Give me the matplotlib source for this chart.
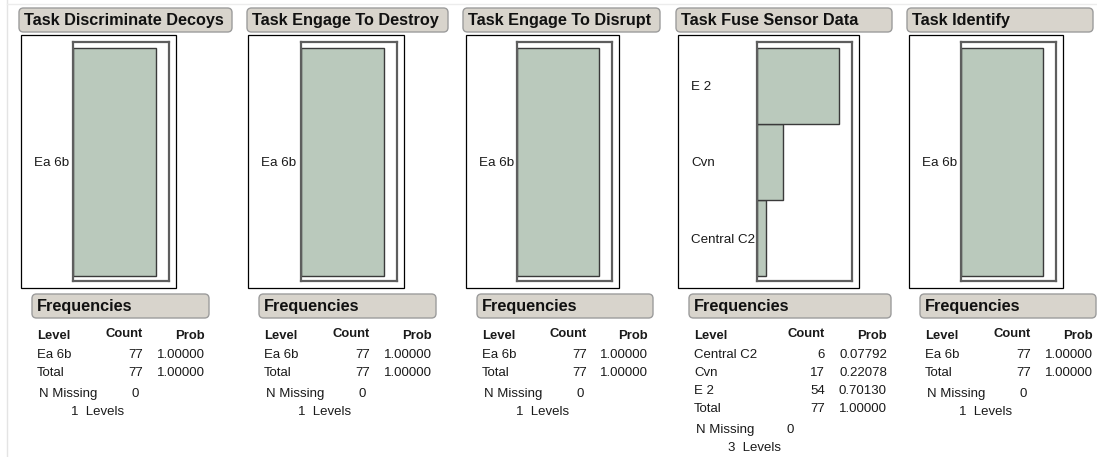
import matplotlib
matplotlib.use("Agg")  # no display
import matplotlib.pyplot as plt
from matplotlib.patches import Rectangle, FancyBboxPatch
from matplotlib.lines import Line2D

plt.rcParams['font.family'] = ['Liberation Sans', 'DejaVu Sans']

# data
titles = ["Task Discriminate Decoys", "Task Engage To Destroy", "Task Engage To Disrupt",
          "Task Fuse Sensor Data", "Task Identify"]
levels = [["Ea 6b"], ["Ea 6b"], ["Ea 6b"], ["Central C2", "Cvn", "E 2"], ["Ea 6b"]]
counts = [[77], [77], [77], [6, 17, 54], [77]]
n_missing = [0, 0, 0, 0, 0]

# layout (pixels, origin top-left)
W, H = 1097, 457
frame_x = [(21, 176), (248, 404), (466, 619), (678, 859), (909, 1063)]
plot_left = [73, 301, 517, 757, 961]
title_x = [(19, 232), (247, 448), (463, 660), (676, 892), (907, 1093)]
freq_w = [177, 177, 176, 202, 176]
count_col = [122, 122, 121, 147, 122]
prob_col = [184, 184, 182, 209, 184]

BAR_COLOR = '#bac9bc'
BOX_FILL = '#d8d4cc'
TXT = '#1a1a1a'

fig = plt.figure(figsize=(W / 100, H / 100), dpi=100)
tr = fig.dpi_scale_trans


def P(x, y):
    # pixel -> inches for dpi_scale_trans
    return x / 100, (H - y) / 100


def text(x, y, s, **kw):
    kw.setdefault('color', TXT)
    kw.setdefault('va', 'center')
    kw.setdefault('fontsize', 9.5)
    fig.text(*P(x, y + 1.2), s, transform=tr, **kw)


def header_box(x0, x1, y0, y1, label):
    box = FancyBboxPatch(P(x0, y1), (x1 - x0) / 100, (y1 - y0) / 100,
                         boxstyle="round,pad=0,rounding_size=0.045",
                         fc=BOX_FILL, ec='#9c9c9c', lw=1.0, transform=tr)
    fig.add_artist(box)
    text(x0 + 5, (y0 + y1) / 2 - 0.5, label, fontsize=11.7, fontweight='bold', color='#111111')


# faint page edges
fig.add_artist(Line2D([0.07, 0.07], [0, H / 100], color='#e4e4e4', lw=1, transform=tr))
fig.add_artist(Line2D([0.07, W / 100], [(H - 4) / 100] * 2, color='#ececec', lw=1, transform=tr))

for i, title in enumerate(titles):
    fl, fr = frame_x[i]
    pl = plot_left[i]
    pr = fr - 7
    top, bot = 42, 281

    header_box(title_x[i][0], title_x[i][1], 8, 32, title)

    # outer frame
    fig.add_artist(Rectangle(P(fl, 288), (fr - fl) / 100, (288 - 35) / 100,
                             fill=False, ec='black', lw=0.9, transform=tr))

    # bar chart
    ax = fig.add_axes([pl / W, 1 - bot / H, (pr - pl) / W, (bot - top) / H])
    n = len(levels[i])
    ax.barh(range(n), counts[i], height=1.0, color=BAR_COLOR, edgecolor='#3a3a3a', lw=1.0)
    ax.set_xlim(0, max(counts[i]) * 96 / 83)
    unit = 228 / n
    ax.set_ylim(-0.5 - 5 / unit, n - 0.5 + 6 / unit)
    ax.set_xticks([])
    ax.set_yticks(range(n))
    ax.set_yticklabels(levels[i], ha='left', fontsize=9.6, color=TXT)
    ax.tick_params(axis='y', length=0, pad=(pl - fl - 13) * 0.72)
    for s in ax.spines.values():
        s.set_color('#5e5e5e')
        s.set_linewidth(1.6)

    # frequencies table
    bx = fl + 11
    header_box(bx, bx + freq_w[i], 294, 318, "Frequencies")
    cx = fl + count_col[i]
    px = fl + prob_col[i]
    text(fl + 16, 335, "Level", fontweight='bold', fontsize=9.4)
    text(cx, 333, "Count", fontweight='bold', fontsize=9.4, ha='right')
    text(px, 335, "Prob", fontweight='bold', fontsize=9.4, ha='right')
    total = sum(counts[i])
    rows = list(zip(levels[i], counts[i])) + [("Total", total)]
    y = 354
    for name, c in rows:
        text(fl + 16, y, name)
        text(cx, y, f"{c}", ha='right')
        text(px, y, f"{c / total:.5f}", ha='right')
        y += 18
    y += 3
    text(fl + 18, y, "N Missing")
    text(fl + 114 - (2 if n > 1 else 0), y, f"{n_missing[i]}", ha='center')
    y += 18
    text(fl + 50, y, f"{n}  Levels")

fig.savefig("out.png", dpi=100)
